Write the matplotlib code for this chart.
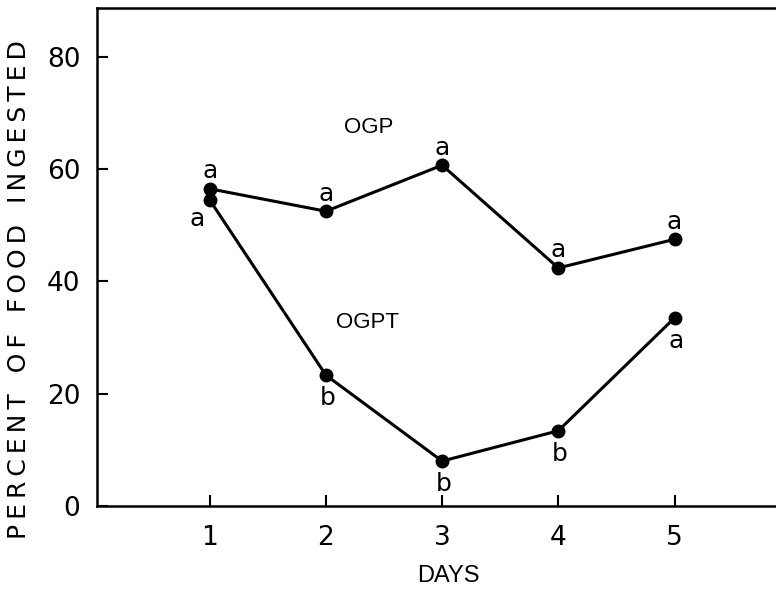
import matplotlib
matplotlib.use("Agg")
import matplotlib.pyplot as plt

days = [1, 2, 3, 4, 5]
ogp = [56.5, 52.5, 60.7, 42.4, 47.5]
ogpt = [54.5, 23.3, 8.0, 13.4, 33.5]
ogp_letters = ["a", "a", "a", "a", "a"]
ogpt_letters = ["a", "b", "b", "b", "a"]
yticks = [0, 20, 40, 60, 80]

plt.rcParams['font.family'] = ['DejaVu Sans']

def spaced(s):
    return "  \u2009".join("\u2009".join(w) for w in s.split(" "))

fig = plt.figure(figsize=(7.76, 5.91), dpi=100)
ax = fig.add_axes([97/776, 85/591, (800-97)/776, 498/591])

ax.plot(days, ogp, color='black', lw=2.2, marker='o', ms=9, zorder=3)
ax.plot(days, ogpt, color='black', lw=2.2, marker='o', ms=9, zorder=3)

for i, (d, v, t) in enumerate(zip(days, ogp, ogp_letters)):
    ax.annotate(t, (d, v), xytext=(0, 4), textcoords='offset points',
                ha='center', va='bottom', fontsize=18)
for i, (d, v, t) in enumerate(zip(days, ogpt, ogpt_letters)):
    if i == 0:
        ax.annotate(t, (d, v), xytext=(-9, -5), textcoords='offset points',
                    ha='center', va='top', fontsize=18)
    else:
        ax.annotate(t, (d, v), xytext=(1, -8), textcoords='offset points',
                    ha='center', va='top', fontsize=18)

ax.text(2.37, 67.5, "OGP", ha='center', va='center', fontsize=16,
        family='Liberation Sans')
ax.text(2.36, 32.6, "OGPT", ha='center', va='center', fontsize=16,
        family='Liberation Sans')

ax.set_xlim(0.03, 6.08)
ax.set_ylim(0, 88.7)
ax.set_xticks(days)
ax.set_yticks(yticks)
ax.set_xticklabels([str(d) for d in days], fontsize=19)
ax.set_yticklabels([str(y) for y in yticks], fontsize=19)
ax.tick_params(direction='in', length=8, width=1.5, pad=12)
ax.tick_params(axis='x', pad=14)
for s in ax.spines.values():
    s.set_linewidth(1.8)
ax.spines['right'].set_visible(False)

ax.set_xlabel("DAYS", fontsize=17, labelpad=10, family='Liberation Sans')
ax.set_ylabel(spaced("PERCENT OF FOOD INGESTED"), fontsize=18)
ax.yaxis.set_label_coords(-0.094, 0.434)

fig.savefig("out.png", dpi=100)
